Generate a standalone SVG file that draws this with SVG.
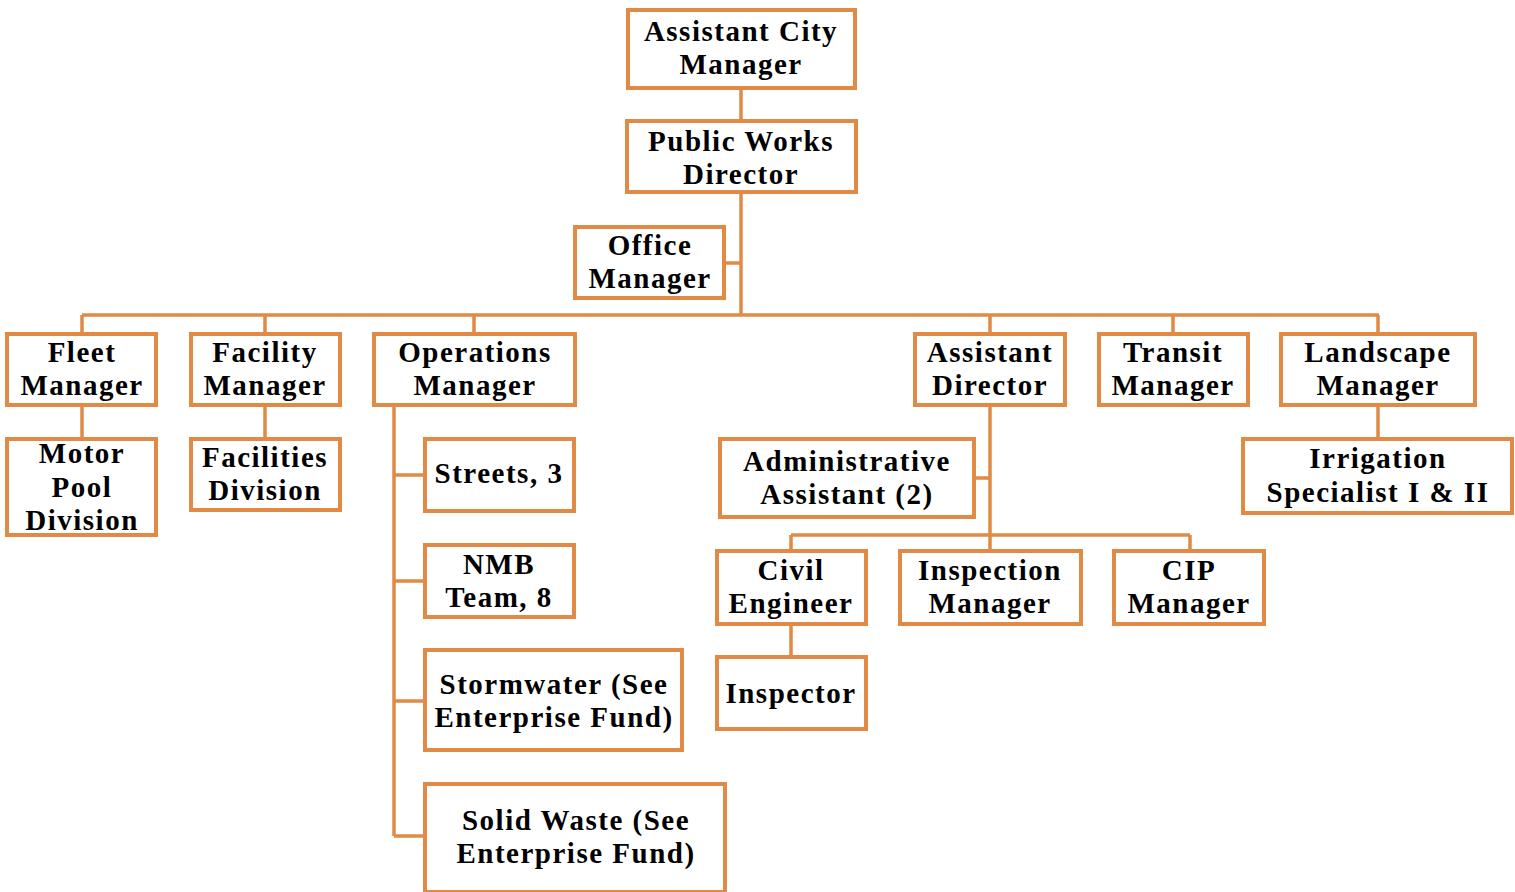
<svg xmlns="http://www.w3.org/2000/svg" width="1515" height="892" viewBox="0 0 1515 892">
<style>
.box{fill:#fff;stroke:#E08A45;stroke-width:4}
.ln{fill:none;stroke:#E08A45;stroke-width:3.5}
text{font-family:"Liberation Serif","Times New Roman",serif;font-weight:bold;font-size:29px;fill:#000;text-anchor:middle;letter-spacing:1.5px}
</style>
<rect width="1515" height="892" fill="#fff"/>
<g id="connectors">
<path class="ln" d="M741 90V315M726 263H741M82 315H1379M82 315V332M265 315V332M474 315V332M990 315V332M1173 315V332M1378 315V332"/>
<path class="ln" d="M82 407V437M265 407V437M1378 407V437"/>
<path class="ln" d="M394 407V836M394 475H423M394 581H423M394 701H423M394 836H423"/>
<path class="ln" d="M990 407V549M976 478H990M791 535H1190M791 535V549M1190 535V549M791 626V655"/>
</g>
<g id="acm"><rect class="box" x="628" y="10" width="227" height="78"/><text x="741" y="41">Assistant City</text><text x="741" y="74">Manager</text></g>
<g id="pwd"><rect class="box" x="627" y="121" width="229" height="71"/><text x="741" y="151">Public Works</text><text x="741" y="184">Director</text></g>
<g id="office"><rect class="box" x="575" y="227" width="149" height="71"/><text x="650" y="255">Office</text><text x="650" y="288">Manager</text></g>
<g id="fleet"><rect class="box" x="7" y="334" width="149" height="71"/><text x="82" y="362">Fleet</text><text x="82" y="395">Manager</text></g>
<g id="facility"><rect class="box" x="191" y="334" width="149" height="71"/><text x="265" y="362">Facility</text><text x="265" y="395">Manager</text></g>
<g id="ops"><rect class="box" x="374" y="334" width="201" height="71"/><text x="475" y="362">Operations</text><text x="475" y="395">Manager</text></g>
<g id="asstdir"><rect class="box" x="915" y="334" width="150" height="71"/><text x="990" y="362">Assistant</text><text x="990" y="395">Director</text></g>
<g id="transit"><rect class="box" x="1099" y="334" width="149" height="71"/><text x="1173" y="362">Transit</text><text x="1173" y="395">Manager</text></g>
<g id="landscape"><rect class="box" x="1281" y="334" width="194" height="71"/><text x="1378" y="362">Landscape</text><text x="1378" y="395">Manager</text></g>
<g id="motorpool"><rect class="box" x="7" y="439" width="149" height="96"/><text x="82" y="463">Motor</text><text x="82" y="497">Pool</text><text x="82" y="530">Division</text></g>
<g id="facdiv"><rect class="box" x="191" y="439" width="149" height="71"/><text x="265" y="467">Facilities</text><text x="265" y="500">Division</text></g>
<g id="streets"><rect class="box" x="425" y="439" width="149" height="72"/><text x="499" y="483">Streets, 3</text></g>
<g id="nmb"><rect class="box" x="425" y="545" width="149" height="72"/><text x="499" y="574">NMB</text><text x="499" y="607">Team, 8</text></g>
<g id="stormwater"><rect class="box" x="425" y="650" width="257" height="100"/><text x="554" y="694">Stormwater (See</text><text x="554" y="727">Enterprise Fund)</text></g>
<g id="solidwaste"><rect class="box" x="425" y="784" width="300" height="108"/><text x="576" y="830">Solid Waste (See</text><text x="576" y="863">Enterprise Fund)</text></g>
<g id="admin"><rect class="box" x="720" y="439" width="254" height="78"/><text x="847" y="471">Administrative</text><text x="847" y="504">Assistant (2)</text></g>
<g id="irrigation"><rect class="box" x="1243" y="439" width="269" height="74"/><text x="1378" y="468">Irrigation</text><text x="1378" y="502">Specialist I &amp; II</text></g>
<g id="civil"><rect class="box" x="717" y="551" width="149" height="73"/><text x="791" y="580">Civil</text><text x="791" y="613">Engineer</text></g>
<g id="inspmgr"><rect class="box" x="900" y="551" width="181" height="73"/><text x="990" y="580">Inspection</text><text x="990" y="613">Manager</text></g>
<g id="cip"><rect class="box" x="1114" y="551" width="150" height="73"/><text x="1189" y="580">CIP</text><text x="1189" y="613">Manager</text></g>
<g id="inspector"><rect class="box" x="717" y="657" width="149" height="72"/><text x="791" y="703">Inspector</text></g>
</svg>
